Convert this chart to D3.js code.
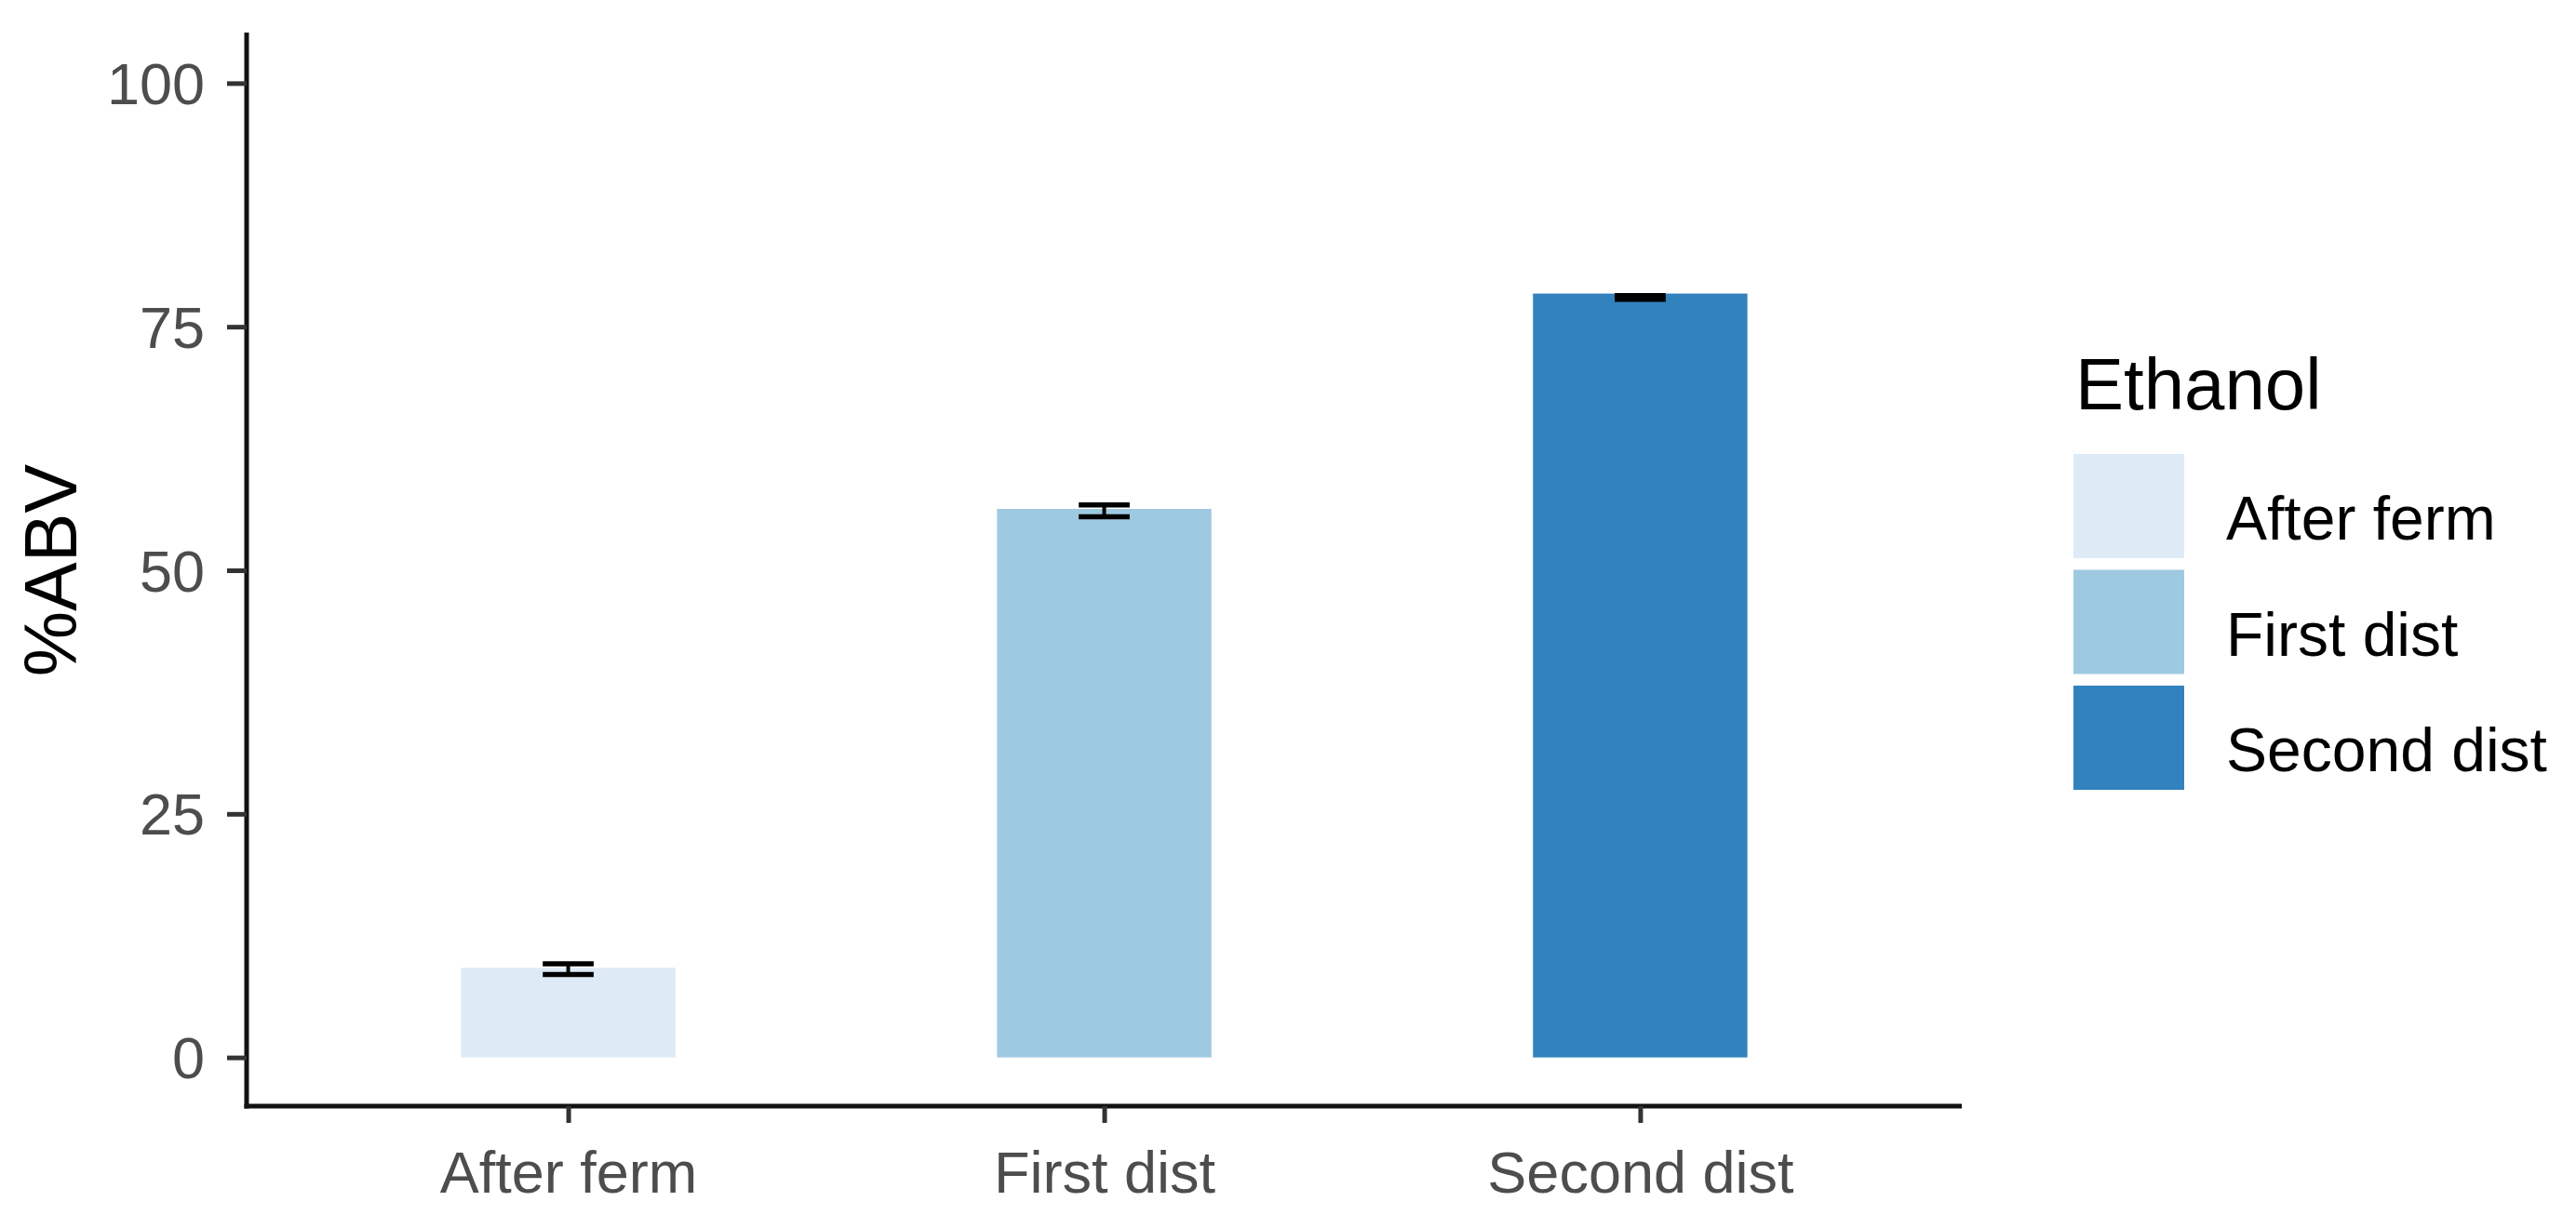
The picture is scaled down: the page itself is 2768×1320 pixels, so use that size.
<!DOCTYPE html>
<html lang="en">
<head>
    <meta charset="UTF-8">
    <title>%ABV by stage</title>
    <style>
      body { margin: 0; background: #fff; }
      text { font-family: "Liberation Sans", Arial, sans-serif; }
    </style>
</head>
<body>
    <div id="my_dataviz"></div>

    <script src="https://d3js.org/d3.v7.min.js"></script>
    <script>

    // data
    var stages = ["After ferm", "First dist", "Second dist"];
    var abvMean = [9.2, 56.3, 78.4];
    var abvLow = [8.5, 55.5, 77.8];
    var abvHigh = [9.6, 56.7, 78.2];
    var yTicks = [0, 25, 50, 75, 100];
    var fillColors = ["#DEEBF7", "#9ECAE1", "#3182BD"];

    var rows = stages.map(function(s, i) {
      return {stage: s, mean: abvMean[i], low: abvLow[i], high: abvHigh[i]};
    });

    // plot area (pixel positions of the axes)
    var plotLeft = 265, plotRight = 2108, plotTop = 37, plotBottom = 1189;

    var svg = d3.select("#my_dataviz")
      .append("svg")
        .attr("width", 2768)
        .attr("height", 1320);

    // scales
    var x = d3.scalePoint()
      .domain(stages)
      .range([plotLeft, plotRight])
      .padding(0.6);

    var y = d3.scaleLinear()
      .domain([-5, 105])
      .range([plotBottom, plotTop]);

    var color = d3.scaleOrdinal()
      .domain(stages)
      .range(fillColors);

    var barW = x.step() * 0.4;
    var capW = x.step() * 0.095;

    // bars
    svg.append("g")
      .selectAll("rect")
      .data(rows)
      .join("rect")
        .attr("x", function(d) { return x(d.stage) - barW / 2; })
        .attr("y", function(d) { return y(d.mean); })
        .attr("width", barW)
        .attr("height", function(d) { return y(0) - y(d.mean); })
        .style("fill", function(d) { return color(d.stage); });

    // error bars
    var eb = svg.append("g")
      .selectAll("g")
      .data(rows)
      .join("g")
        .attr("stroke", "#000")
        .attr("stroke-width", 5.5);
    eb.append("line")
        .attr("stroke-width", 4)
        .attr("x1", function(d) { return x(d.stage); })
        .attr("x2", function(d) { return x(d.stage); })
        .attr("y1", function(d) { return y(d.low); })
        .attr("y2", function(d) { return y(d.high); });
    eb.append("line")
        .attr("x1", function(d) { return x(d.stage) - capW / 2; })
        .attr("x2", function(d) { return x(d.stage) + capW / 2; })
        .attr("y1", function(d) { return y(d.low); })
        .attr("y2", function(d) { return y(d.low); });
    eb.append("line")
        .attr("x1", function(d) { return x(d.stage) - capW / 2; })
        .attr("x2", function(d) { return x(d.stage) + capW / 2; })
        .attr("y1", function(d) { return y(d.high); })
        .attr("y2", function(d) { return y(d.high); });

    // Y axis
    var yAxis = svg.append("g")
      .attr("transform", "translate(" + plotLeft + ",0)")
      .call(d3.axisLeft(y).tickValues(yTicks).tickSize(21).tickPadding(24).tickSizeOuter(0));
    yAxis.select(".domain").attr("stroke", "#111").attr("stroke-width", 5)
      .attr("d", "M0," + (plotTop - 2) + "V" + (plotBottom + 2.5));
    yAxis.selectAll(".tick line").attr("stroke", "#333").attr("stroke-width", 5);
    yAxis.selectAll(".tick text")
      .attr("fill", "#4D4D4D")
      .style("font-size", "63px")
      .style("font-family", "Liberation Sans, Arial, sans-serif")
      .attr("dy", "0.35em");

    // X axis
    var xAxis = svg.append("g")
      .attr("transform", "translate(0," + plotBottom + ")")
      .call(d3.axisBottom(x).tickSize(18).tickSizeOuter(0));
    xAxis.select(".domain").attr("stroke", "#111").attr("stroke-width", 5)
      .attr("d", "M" + (plotLeft - 2.5) + ",0H" + plotRight);
    xAxis.selectAll(".tick line").attr("stroke", "#333").attr("stroke-width", 5);
    xAxis.selectAll(".tick text")
      .attr("fill", "#4D4D4D")
      .style("font-size", "63px")
      .style("font-family", "Liberation Sans, Arial, sans-serif")
      .attr("y", 93)
      .attr("dy", "0");

    // Y axis title
    svg.append("text")
      .attr("transform", "translate(82,613) rotate(-90)")
      .attr("text-anchor", "middle")
      .style("font-size", "79px")
      .style("fill", "#000")
      .text("%ABV");

    // legend
    var legX = 2228, keyW = 119, keyH = 112, keyTop = 488, keyStep = 124.5;

    svg.append("text")
      .attr("x", legX + 2)
      .attr("y", 440)
      .style("font-size", "78px")
      .style("fill", "#000")
      .text("Ethanol");

    var leg = svg.append("g")
      .selectAll("g")
      .data(stages)
      .join("g")
        .attr("transform", function(d, i) { return "translate(" + legX + "," + (keyTop + i * keyStep) + ")"; });
    leg.append("rect")
      .attr("width", keyW)
      .attr("height", keyH)
      .style("fill", function(d) { return color(d); });
    leg.append("text")
      .attr("x", 164)
      .attr("y", 92)
      .style("font-size", "66px")
      .style("fill", "#000")
      .text(function(d) { return d; });

    </script>
</body>
</html>
